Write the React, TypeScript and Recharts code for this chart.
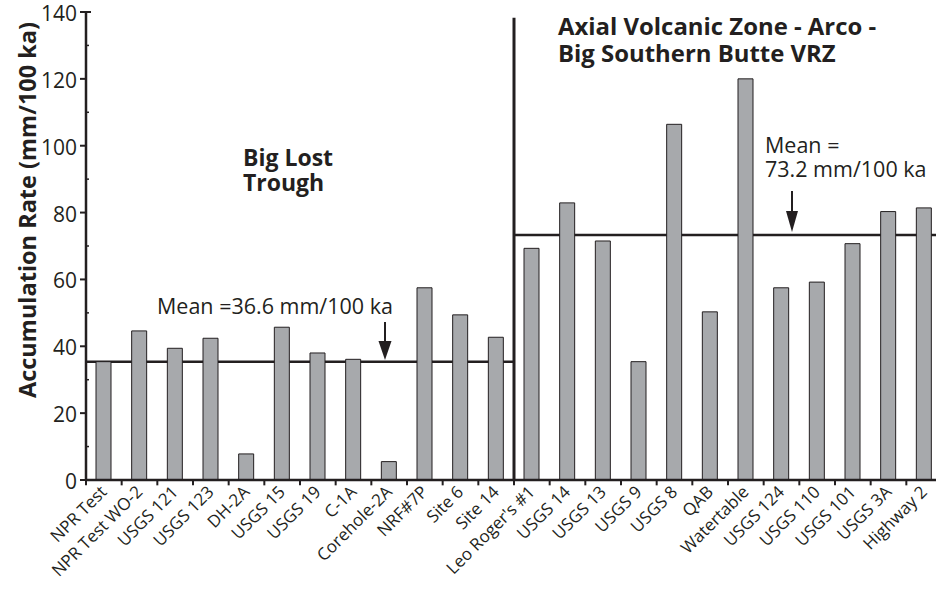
import { ComposedChart, Bar, XAxis, YAxis, ReferenceLine, ReferenceArea } from 'recharts';

// Boreholes, left group = Big Lost Trough, right group = Axial Volcanic Zone
const lostTroughSites = [
    'NPR Test', 'NPR Test WO-2', 'USGS 121', 'USGS 123', 'DH-2A', 'USGS 15',
    'USGS 19', 'C-1A', 'Corehole-2A', 'NRF#7P', 'Site 6', 'Site 14',
];
const lostTroughRates = [35.4, 44.6, 39.4, 42.4, 7.8, 45.7, 38.0, 36.1, 5.5, 57.5, 49.4, 42.7];

const axialSites = [
    "Leo Roger's #1", 'USGS 14', 'USGS 13', 'USGS 9', 'USGS 8', 'QAB',
    'Watertable', 'USGS 124', 'USGS 110', 'USGS 101', 'USGS 3A', 'Highway 2',
];
const axialRates = [69.3, 82.9, 71.5, 35.4, 106.4, 50.3, 120.0, 57.5, 59.2, 70.7, 80.3, 81.4];

// mean lines as drawn on the figure
const lostTroughMean = 35.4;
const axialMean = 73.3;

const yTicks = [0, 10, 20, 30, 40, 50, 60, 70, 80, 90, 100, 110, 120, 130, 140];

const data = [
    ...lostTroughSites.map((name, i) => ({ name, rate: lostTroughRates[i] })),
    ...axialSites.map((name, i) => ({ name, rate: axialRates[i] })),
];

const INK = '#231f20';
const FONT = "'Open Sans', sans-serif";

function RateTick({ x, y, payload }: any) {
    const axisX = x + 9;
    if (payload.value % 20 !== 0) {
        return <line x1={axisX} x2={axisX + 3} y1={y} y2={y} stroke={INK} strokeWidth={1.5} />;
    }
    return (
        <g>
            <line x1={axisX - 6} x2={payload.value === 140 ? axisX + 5 : axisX} y1={y} y2={y} stroke={INK} strokeWidth={2} />
            <text x={x} y={y} dy={9} textAnchor="end" fontSize={21} fontFamily={FONT} fill={INK}>
                {payload.value}
            </text>
        </g>
    );
}

function SiteTick({ x, y, payload }: any) {
    const tx = x + 4;
    const ty = y + 5;
    return (
        <text x={tx} y={ty} transform={`rotate(-45, ${tx}, ${ty})`} textAnchor="end" fontSize={17} fontFamily={FONT} fill={INK}>
            {payload.value}
        </text>
    );
}

// horizontal mean line spanning a group of categories
const meanLine = (props: any) => (
    <line x1={props.x} x2={props.x + props.width} y1={props.y} y2={props.y} stroke={INK} strokeWidth={2.5} />
);

export default function App() {
    return (
        <div style={{ position: 'absolute', left: 0, top: 0, width: 936, height: 590, overflow: 'hidden', background: '#fff' }}>
            <ComposedChart width={950} height={590} data={data} margin={{ top: 12, right: 8, bottom: 10, left: 0 }}>
                <XAxis
                    dataKey="name"
                    interval={0}
                    height={100}
                    tickLine={false}
                    tick={<SiteTick />}
                    axisLine={{ stroke: INK, strokeWidth: 2.5 }}
                />
                <YAxis
                    width={86}
                    domain={[0, 140]}
                    ticks={yTicks}
                    interval={0}
                    tickLine={false}
                    tickSize={6}
                    tickMargin={3}
                    tick={<RateTick />}
                    axisLine={{ stroke: INK, strokeWidth: 2.5 }}
                    allowDataOverflow
                />
                {data.map(d => (
                    <ReferenceLine
                        key={`tick-${d.name}`}
                        segment={[{ x: d.name, y: 0 }, { x: d.name, y: -1.6 }]}
                        position="start"
                        stroke={INK}
                        strokeWidth={2}
                        ifOverflow="visible"
                    />
                ))}
                <Bar dataKey="rate" barSize={15} fill="#a7a9ac" stroke={INK} strokeWidth={1} isAnimationActive={false} />
                <ReferenceArea
                    x1={lostTroughSites[0]}
                    x2={lostTroughSites[lostTroughSites.length - 1]}
                    y1={lostTroughMean}
                    y2={lostTroughMean}
                    ifOverflow="visible"
                    shape={meanLine}
                />
                <ReferenceArea
                    x1={axialSites[0]}
                    x2={axialSites[axialSites.length - 1]}
                    y1={axialMean}
                    y2={axialMean}
                    ifOverflow="visible"
                    shape={meanLine}
                />
                <ReferenceLine
                    segment={[{ x: axialSites[0], y: 0 }, { x: axialSites[0], y: 138.3 }]}
                    position="start"
                    stroke={INK}
                    strokeWidth={3}
                    ifOverflow="visible"
                />
            </ComposedChart>
            <svg width={936} height={590} style={{ position: 'absolute', left: 0, top: 0, pointerEvents: 'none' }} fontFamily={FONT} fill={INK}>
                <text x={36} y={210} transform="rotate(-90, 36, 210)" textAnchor="middle" fontSize={23.5} fontWeight="bold">
                    Accumulation Rate (mm/100 ka)
                </text>
                <text fontSize={23} fontWeight="bold">
                    <tspan x={243} y={166}>Big Lost</tspan>
                    <tspan x={243} y={191}>Trough</tspan>
                </text>
                <text fontSize={23.9} fontWeight="bold">
                    <tspan x={558} y={35}>Axial Volcanic Zone - Arco -</tspan>
                    <tspan x={558} y={62}>Big Southern Butte VRZ</tspan>
                </text>
                <text x={157} y={314} fontSize={21.5}>Mean =36.6 mm/100 ka</text>
                <text fontSize={21.5}>
                    <tspan x={765} y={153}>Mean =</tspan>
                    <tspan x={765} y={177}>73.2 mm/100 ka</tspan>
                </text>
                <line x1={385} x2={385} y1={322} y2={345} stroke={INK} strokeWidth={2} />
                <polygon points="378.5,341 391.5,341 385,360" />
                <line x1={792} x2={792} y1={191} y2={215} stroke={INK} strokeWidth={2} />
                <polygon points="786,211 798,211 792,232" />
            </svg>
        </div>
    );
}
